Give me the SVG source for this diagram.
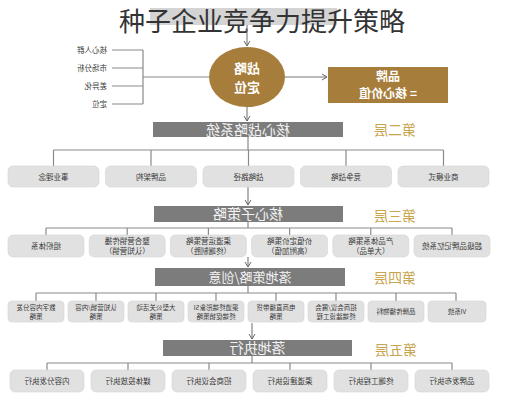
<svg xmlns="http://www.w3.org/2000/svg" width="527" height="400" viewBox="0 0 527 400">
<style>
text{font-family:"Noto Sans CJK SC","Noto Sans",sans-serif}
.m{transform:scale(-1,1)}
.box{fill:#e1e1e1;stroke:#d4d4d4;stroke-width:0.6}
.bar{fill:#7c7c7c}
.gold{fill:#a67d3b}
.bt{font-size:14px;fill:#f3f3f3;text-anchor:middle}
.lv{font-size:14px;fill:#c9a54e;text-anchor:middle}
.t7{font-size:7.5px;fill:#3a3a3a;text-anchor:middle}
.t6{font-size:6.5px;fill:#3a3a3a;text-anchor:middle}
.wt{font-size:13px;fill:#ffffff;text-anchor:middle;font-weight:bold}
.ln{fill:none;stroke:#8a8a8a;stroke-width:1.2}
.ar{fill:none;stroke:#777;stroke-width:1.1;marker-end:url(#ah)}
</style>
<defs>
<marker id="ah" markerWidth="8" markerHeight="8" refX="6" refY="4" orient="auto" markerUnits="userSpaceOnUse"><path d="M1,1 L6,4 L1,7" fill="none" stroke="#666" stroke-width="1"/></marker>
</defs>
<rect width="527" height="400" fill="#ffffff"/>
<rect x="150" y="8" width="187" height="17" fill="#c6c6c6" opacity="0.75"/>
<text x="262" y="31" font-size="26" fill="#333333" text-anchor="middle" style="font-family:'Noto Sans CJK SC',sans-serif">种子企业竞争力提升策略</text>

<g id="connectors">
<line class="ar" x1="247" y1="25" x2="247" y2="46"/>
<path class="ln" d="M112,50H143M112,68H143M112,86H143M112,104H143M143,50V104M143,77H210"/>
<line class="ar" x1="285" y1="77" x2="327" y2="77"/>
<line class="ar" x1="247" y1="107" x2="247" y2="121"/>
<path class="ln" d="M248,137V150M53.5,150H443.5M53.5,150V166M151,150V166M248.5,150V166M346,150V166M443.5,150V166"/>
<line class="ar" x1="248" y1="187" x2="248" y2="205"/>
<path class="ln" d="M248,222V228M46,228H452M46,228V235M127.2,228V235M208.4,228V235M289.6,228V235M370.8,228V235M452,228V235"/>
<line class="ar" x1="248" y1="257" x2="248" y2="267"/>
<path class="ln" d="M248,286V293M36,293H456M36,293V301M96,293V301M156,293V301M216,293V301M276,293V301M336,293V301M396,293V301M456,293V301"/>
<line class="ar" x1="252" y1="323" x2="252" y2="339"/>
<path class="ln" d="M252,356V363M47,363H452M47,363V370M128,363V370M209,363V370M290,363V370M371,363V370M452,363V370"/>
</g>

<g id="inputs">
<text class="m t7" x="-107" y="53" style="text-anchor:start">核心人群</text>
<text class="m t7" x="-107" y="71" style="text-anchor:start">市场分析</text>
<text class="m t7" x="-107" y="89" style="text-anchor:start">差异化</text>
<text class="m t7" x="-107" y="107" style="text-anchor:start">定位</text>
</g>

<g id="positioning">
<ellipse class="gold" cx="247" cy="77" rx="38" ry="30"/>
<text class="m wt" x="-247" y="73">战略</text>
<text class="m wt" x="-247" y="92">定位</text>
</g>

<g id="brand">
<rect class="gold" x="328" y="67" width="120" height="36"/>
<text class="m wt" x="-388" y="81" style="font-size:12px">品牌</text>
<text class="m wt" x="-388" y="98" style="font-size:12px">= 核心价值</text>
</g>

<g id="layer2">
<rect class="bar" x="153" y="122" width="190" height="15"/>
<text class="m bt" x="-248" y="135">核心战略系统</text>
<text class="m lv" x="-395" y="135">第二层</text>
<rect class="box" x="8" y="166" width="91" height="21" rx="5"/>
<text class="m t7" x="-53.5" y="179.5">事业理念</text>
<rect class="box" x="105.5" y="166" width="91" height="21" rx="5"/>
<text class="m t7" x="-151" y="179.5">品牌架构</text>
<rect class="box" x="203" y="166" width="91" height="21" rx="5"/>
<text class="m t7" x="-248.5" y="179.5">战略路径</text>
<rect class="box" x="300.5" y="166" width="91" height="21" rx="5"/>
<text class="m t7" x="-346" y="179.5">竞争战略</text>
<rect class="box" x="398" y="166" width="91" height="21" rx="5"/>
<text class="m t7" x="-443.5" y="179.5">商业模式</text>
</g>

<g id="layer3">
<rect class="bar" x="154" y="206" width="189" height="16"/>
<text class="m bt" x="-248" y="219">核心子策略</text>
<text class="m lv" x="-395" y="221">第三层</text>
<rect class="box" x="8" y="235" width="76" height="22" rx="5"/>
<text class="m t7" x="-46" y="249">组织体系</text>
<rect class="box" x="89.2" y="235" width="76" height="22" rx="5"/>
<text class="m t7" x="-127.2" y="244">整合营销传播</text>
<text class="m t7" x="-127.2" y="253.5">（认知营销）</text>
<rect class="box" x="170.4" y="235" width="76" height="22" rx="5"/>
<text class="m t7" x="-208.4" y="244">渠道运营策略</text>
<text class="m t7" x="-208.4" y="253.5">（终端制胜）</text>
<rect class="box" x="251.6" y="235" width="76" height="22" rx="5"/>
<text class="m t7" x="-289.6" y="244">价值定价策略</text>
<text class="m t7" x="-289.6" y="253.5">（高附加值）</text>
<rect class="box" x="332.8" y="235" width="76" height="22" rx="5"/>
<text class="m t7" x="-370.8" y="244">产品体系策略</text>
<text class="m t7" x="-370.8" y="253.5">（大单品）</text>
<rect class="box" x="414" y="235" width="76" height="22" rx="5"/>
<text class="m t7" x="-452" y="249">超级品牌记忆系统</text>
</g>

<g id="layer4">
<rect class="bar" x="155" y="268" width="190" height="18"/>
<text class="m bt" x="-250" y="282" style="font-size:13px">落地策略/创意</text>
<text class="m lv" x="-395" y="283">第四层</text>
<rect class="box" x="8" y="301" width="56" height="21" rx="4"/>
<text class="m t6" x="-36" y="310">数字内容分发</text>
<text class="m t6" x="-36" y="318.5">策略</text>
<rect class="box" x="68" y="301" width="56" height="21" rx="4"/>
<text class="m t6" x="-96" y="310">认知营销/内容</text>
<text class="m t6" x="-96" y="318.5">策略</text>
<rect class="box" x="128" y="301" width="56" height="21" rx="4"/>
<text class="m t6" x="-156" y="310">大型公关活动</text>
<text class="m t6" x="-156" y="318.5">策略</text>
<rect class="box" x="188" y="301" width="56" height="21" rx="4"/>
<text class="m t6" x="-216" y="310">渠道终端形象SI</text>
<text class="m t6" x="-216" y="318.5">终端促销策略</text>
<rect class="box" x="248" y="301" width="56" height="21" rx="4"/>
<text class="m t6" x="-276" y="310">电商直播带货</text>
<text class="m t6" x="-276" y="318.5">策略</text>
<rect class="box" x="308" y="301" width="56" height="21" rx="4"/>
<text class="m t6" x="-336" y="310">招商会议/展会</text>
<text class="m t6" x="-336" y="318.5">终端建设工程</text>
<rect class="box" x="368" y="301" width="56" height="21" rx="4"/>
<text class="m t6" x="-396" y="314">品牌传播物料</text>
<rect class="box" x="428" y="301" width="58" height="21" rx="4"/>
<text class="m t6" x="-457" y="314">VI系统</text>
</g>

<g id="layer5">
<rect class="bar" x="163" y="340" width="189" height="16"/>
<text class="m bt" x="-257.5" y="353">落地执行</text>
<text class="m lv" x="-396" y="355">第五层</text>
<rect class="box" x="10" y="370" width="74" height="22" rx="5"/>
<text class="m t7" x="-47" y="384">内容分发执行</text>
<rect class="box" x="91" y="370" width="74" height="22" rx="5"/>
<text class="m t7" x="-128" y="384">媒体投放执行</text>
<rect class="box" x="172" y="370" width="74" height="22" rx="5"/>
<text class="m t7" x="-209" y="384">招商会议执行</text>
<rect class="box" x="253" y="370" width="74" height="22" rx="5"/>
<text class="m t7" x="-290" y="384">渠道建设执行</text>
<rect class="box" x="334" y="370" width="74" height="22" rx="5"/>
<text class="m t7" x="-371" y="384">终端工程执行</text>
<rect class="box" x="415" y="370" width="74" height="22" rx="5"/>
<text class="m t7" x="-452" y="384">品牌发布执行</text>
</g>
</svg>
